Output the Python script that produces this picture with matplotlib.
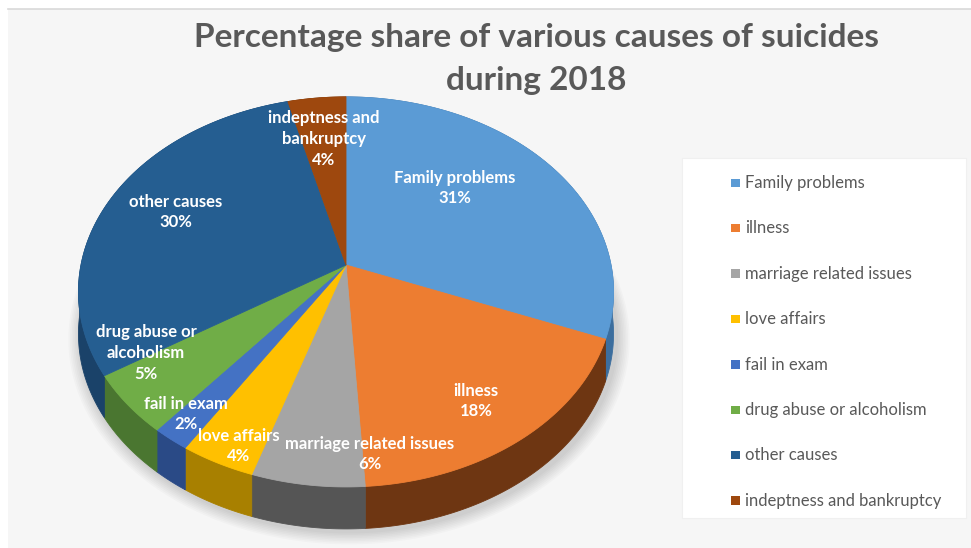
import numpy as np
import matplotlib
matplotlib.use("Agg")
import matplotlib.pyplot as plt
from matplotlib.patches import Polygon, Rectangle

# ---- data -------------------------------------------------------------
causes = [
    "Family problems",
    "illness",
    "marriage related issues",
    "love affairs",
    "fail in exam",
    "drug abuse or alcoholism",
    "other causes",
    "indeptness and bankruptcy",
]
shares = [31, 18, 6, 4, 2, 5, 30, 4]
slice_labels = [
    "Family problems",
    "illness",
    "marriage related issues",
    "love affairs",
    "fail in exam",
    "drug abuse or\nalcoholism",
    "other causes",
    "indeptness and\nbankruptcy",
]
title = "Percentage share of various causes of suicides\nduring 2018"

# ---- styling ----------------------------------------------------------
top_colors = ["#5B9BD5", "#ED7D31", "#A5A5A5", "#FFC000",
              "#4472C4", "#70AD47", "#255E91", "#9E480E"]
side_colors = ["#3C6E9E", "#6E3612", "#555555", "#A88000",
               "#2A4A86", "#4A7630", "#1A4269", "#6A2F08"]
# label anchor positions (pixels) for the in-slice labels
label_xy = [(455, 188), (476, 401), (370, 454), (239, 446),
            (186, 414), (146, 353), (176, 212), (324, 139)]

W, H = 971, 548
fig = plt.figure(figsize=(W / 100, H / 100), dpi=100)
fig.patch.set_facecolor("white")
ax = fig.add_axes([0, 0, 1, 1])
ax.set_xlim(0, W)
ax.set_ylim(H, 0)
ax.axis("off")

FONT = ["Lato", "DejaVu Sans"]

# chart area background
ax.add_patch(Rectangle((8, 8.5), W - 8, H - 8.5, facecolor="#F6F6F6",
                       edgecolor="none", zorder=0))
ax.plot([8, W], [8.5, 8.5], color="#D9D9D9", lw=1.2, zorder=0.5)

# ---- 3-D pie geometry (perspective-projected tilted disk) -------------
CX, CY = 346.0, 265.0      # pie centre on screen
SX, SY = 265.0, 191.3      # horizontal / vertical scale
K = 0.138                  # perspective strength
DEPTH = 42.0               # thickness of the pie


def proj(theta, r=1.0, drop=0.0):
    u = r * np.sin(theta)
    v = r * np.cos(theta)
    w = 1.0 + K * v
    return CX + SX * u / w, CY - SY * v / w + drop


total = float(sum(shares))
bounds = np.concatenate([[0.0], np.cumsum(shares)]) / total * 2 * np.pi

# soft shadow below the pie, cast towards the lower right
tt = np.linspace(0, 2 * np.pi, 400)
for i in range(8):
    grow = 1.0 + 0.006 * (8 - i)
    xs, ys = proj(tt, r=grow, drop=DEPTH + 3)
    ax.add_patch(Polygon(np.column_stack([xs + 3, ys]), closed=True,
                         facecolor="black", alpha=0.018, edgecolor="none",
                         zorder=1))

# side walls
for i in range(len(shares)):
    t = np.linspace(bounds[i], bounds[i + 1], 200)
    xs, ys = proj(t)
    xb, yb = proj(t[::-1], drop=DEPTH)
    pts = np.column_stack([np.concatenate([xs, xb]),
                           np.concatenate([ys, yb])])
    ax.add_patch(Polygon(pts, closed=True, facecolor=side_colors[i],
                         edgecolor=side_colors[i], lw=0.6, zorder=2))

# top faces
for i in range(len(shares)):
    t = np.linspace(bounds[i], bounds[i + 1], 200)
    xs, ys = proj(t)
    pts = np.vstack([[CX, CY], np.column_stack([xs, ys])])
    ax.add_patch(Polygon(pts, closed=True, facecolor=top_colors[i],
                         edgecolor=top_colors[i], lw=0.6, zorder=3))

# data labels
for lab, val, (lx, ly) in zip(slice_labels, shares, label_xy):
    ax.text(lx, ly, f"{lab}\n{val}%", ha="center", va="center",
            color="white", fontsize=12, fontweight="bold", family=FONT,
            linespacing=1.38, zorder=5)

# title
ax.text(536, 59, title, ha="center", va="center", color="#595959",
        fontsize=24, fontweight="bold", family=FONT, linespacing=1.62,
        zorder=5)

# legend
ax.add_patch(Rectangle((682, 158), 284, 360, facecolor="white",
                       edgecolor="#F0F0F0", lw=0.8, zorder=4))
for i, name in enumerate(causes):
    y = 183 + i * 45.4
    ax.add_patch(Rectangle((731, y - 4.5), 8.5, 8.5, facecolor=top_colors[i],
                           edgecolor="none", zorder=5))
    ax.text(745, y, name, ha="left", va="center", color="#595959",
            fontsize=12, family=FONT, zorder=5)

fig.savefig("out.png", dpi=100, facecolor=fig.get_facecolor())
